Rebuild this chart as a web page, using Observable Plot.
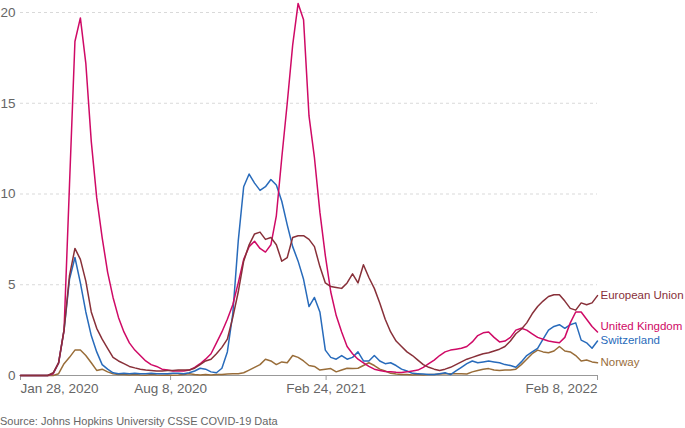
<!DOCTYPE html>
<html><head><meta charset="utf-8">
<script src="https://cdn.jsdelivr.net/npm/d3@7"></script>
<script src="https://cdn.jsdelivr.net/npm/@observablehq/plot@0.6"></script>
<style>
body{margin:0;background:#fff;font-family:"Liberation Sans",Arial,Helvetica,sans-serif;}
#chart svg{display:block}
.source{font-size:11px;color:#666;margin-top:14px;line-height:14px;}
</style></head><body>
<div id="chart"></div>
<div class="source">Source: Johns Hopkins University CSSE COVID-19 Data</div>
<script>
// Weekly readings, starting Jan 28, 2020, ending Feb 8, 2022
const startDate = "2020-01-28";
const endDate = "2022-02-08";

const countries = ["Norway", "Switzerland", "United Kingdom", "European Union"];
const colors = ["#996D39", "#286BBB", "#CF0A66", "#883039"];

const unitedKingdom = [0,0,0,0,0,0,0.1,0.7,2.5,10.5,
 18.4,19.7,17.2,12.9,9.8,7.6,5.7,4.3,3.2,2.4,
 1.8,1.4,1.1,0.8,0.6,0.5,0.35,0.3,0.25,0.25,
 0.25,0.3,0.45,0.65,0.9,1.2,1.8,2.4,3.1,3.9,
 5.1,6.4,7.1,7.4,7.0,6.8,7.2,8.8,12.0,15.0,
 18.2,20.5,19.6,14.3,12.0,9.0,6.6,4.6,3.3,2.4,
 1.6,1.2,0.9,0.7,0.5,0.35,0.28,0.22,0.2,0.18,
 0.17,0.2,0.25,0.3,0.45,0.65,0.85,1.1,1.3,1.4,
 1.45,1.5,1.6,1.85,2.2,2.35,2.4,2.1,1.85,1.9,
 2.1,2.5,2.6,2.5,2.3,2.1,2.0,1.9,1.85,1.8,
 2.1,2.9,3.5,3.5,3.1,2.7,2.4];

const europeanUnion = [0,0,0,0,0,0,0.15,0.7,2.5,5.5,
 7.0,6.4,5.2,3.5,2.6,2.0,1.5,1.0,0.8,0.65,
 0.5,0.42,0.35,0.3,0.28,0.25,0.25,0.27,0.28,0.3,
 0.3,0.3,0.4,0.6,0.8,0.9,1.2,1.55,2.0,3.2,
 4.6,6.3,7.2,7.8,7.9,7.5,7.6,7.2,6.3,6.5,
 7.6,7.7,7.7,7.5,7.1,6.0,5.1,4.9,4.85,4.8,
 5.1,5.6,5.1,6.1,5.4,4.8,4.0,3.1,2.4,1.9,
 1.6,1.3,1.1,0.85,0.6,0.45,0.35,0.28,0.35,0.45,
 0.6,0.75,0.9,1.0,1.1,1.2,1.25,1.35,1.45,1.6,
 1.9,2.3,2.55,2.9,3.4,3.8,4.1,4.35,4.45,4.45,
 4.1,3.7,3.6,4.0,3.9,4.0,4.4];

const switzerland = [0,0,0,0,0,0,0.1,0.7,2.5,5.3,
 6.5,5.1,3.5,2.2,1.3,0.6,0.35,0.15,0.1,0.12,
 0.1,0.12,0.1,0.1,0.12,0.1,0.1,0.1,0.12,0.12,
 0.1,0.15,0.25,0.4,0.35,0.2,0.15,0.4,1.3,3.4,
 7.4,10.4,11.1,10.6,10.2,10.4,10.8,10.5,9.6,8.3,
 7.1,6.3,5.3,3.8,4.3,3.5,1.4,1.0,0.9,1.1,
 0.9,1.0,1.3,0.8,0.8,1.1,0.8,0.65,0.7,0.55,
 0.35,0.25,0.12,0.1,0.08,0.05,0.05,0.1,0.15,0.05,
 0.25,0.45,0.65,0.8,0.7,0.75,0.8,0.75,0.7,0.6,
 0.55,0.45,0.75,1.1,1.3,1.5,2.0,2.5,2.7,2.8,
 2.6,2.8,2.9,1.95,1.8,1.5,1.9];

const norway = [0,0,0,0,0,0,0,0.1,0.65,1.0,
 1.4,1.4,1.1,0.7,0.28,0.35,0.2,0.1,0.05,0.05,
 0.03,0.05,0.03,0.02,0.05,0.03,0.02,0.03,0.02,0.03,
 0.05,0.1,0.05,0.03,0.05,0.03,0.05,0.05,0.08,0.1,
 0.1,0.15,0.3,0.45,0.6,0.9,0.8,0.6,0.75,0.7,
 1.1,1.0,0.8,0.55,0.5,0.3,0.35,0.38,0.2,0.3,
 0.4,0.38,0.4,0.55,0.7,0.55,0.35,0.25,0.12,0.08,
 0.05,0.05,0.03,0.05,0.03,0.05,0.05,0.08,0.1,0.1,
 0.1,0.1,0.08,0.2,0.28,0.35,0.38,0.3,0.28,0.3,
 0.3,0.35,0.6,0.9,1.2,1.4,1.3,1.25,1.35,1.6,
 1.35,1.3,1.1,0.8,0.85,0.75,0.7];

const yTicks = [0, 5, 10, 15, 20];
const xTickDates = ["2020-01-28", "2020-08-08", "2021-02-24", "2022-02-08"];
const xTickLabels = ["Jan 28, 2020", "Aug 8, 2020", "Feb 24, 2021", "Feb 8, 2022"];

const seriesValues = [norway, switzerland, unitedKingdom, europeanUnion];
const start = new Date(startDate + "T00:00:00Z");
const rows = [];
seriesValues.forEach((vals, k) => {
  vals.forEach((v, i) => rows.push({country: countries[k], date: d3.utcDay.offset(start, 7 * i), value: v}));
});
const tickDates = xTickDates.map(s => new Date(s + "T00:00:00Z"));
const labelDy = {"European Union": 0, "United Kingdom": -6, "Switzerland": -1, "Norway": 0};

const font = '"Liberation Sans", Arial, Helvetica, sans-serif';
const anchors = ["start", "middle", "middle", "end"];

const marks = [
  Plot.gridY(yTicks.filter(t => t > 0), {stroke: "#d9d9d9", strokeOpacity: 1, strokeDasharray: "3,3"}),
  Plot.axisY({ticks: yTicks, tickSize: 0, tickPadding: 5, fill: "#666", label: null}),
  Plot.ruleY([0], {stroke: "#999"}),
  Plot.axisX({ticks: tickDates, tickSize: 5, stroke: "#999", tickFormat: () => "", label: null})
];
countries.forEach((c, k) => {
  marks.push(Plot.line(rows.filter(r => r.country === c), {x: "date", y: "value", stroke: colors[k], strokeWidth: 1.5}));
});
tickDates.forEach((d, i) => {
  marks.push(Plot.text([d], {x: t => t, y: () => 0, text: () => xTickLabels[i], textAnchor: anchors[i], dy: 13, lineAnchor: "middle", fill: "#666"}));
});
countries.forEach((c, k) => {
  const last = rows.filter(r => r.country === c).slice(-1);
  marks.push(Plot.text(last, {x: "date", y: "value", text: "country", fill: colors[k], textAnchor: "start", dx: 3, dy: labelDy[c], fontSize: 11.5}));
});

const chart = Plot.plot({
  width: 685,
  height: 400,
  marginTop: 12,
  marginBottom: 25,
  marginLeft: 20,
  marginRight: 88,
  x: {type: "utc", domain: [start, new Date(endDate + "T00:00:00Z")], label: null},
  y: {domain: [0, 20], label: null},
  style: {fontFamily: font, fontSize: "13.5px", color: "#666", background: "white", overflow: "visible"},
  marks
});
document.getElementById("chart").append(chart);
</script></body></html>
